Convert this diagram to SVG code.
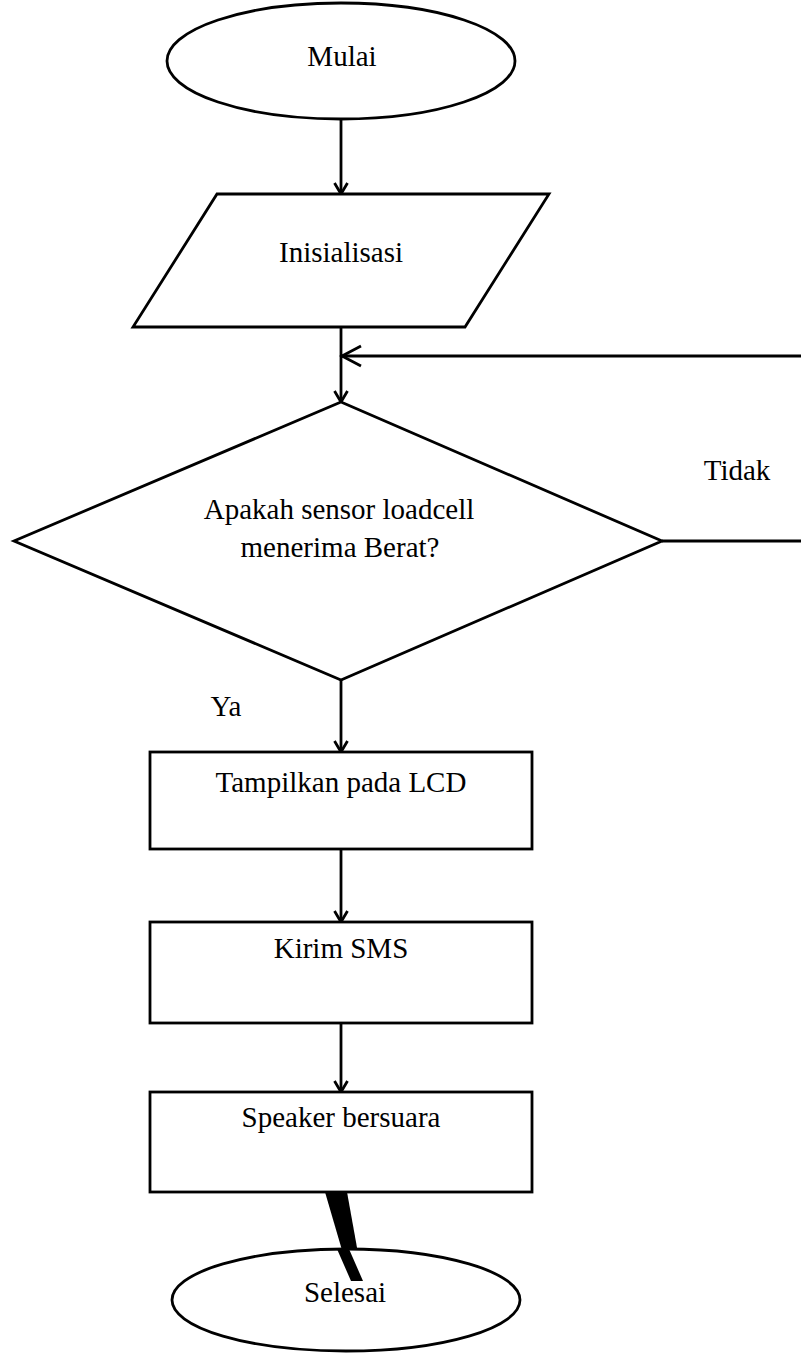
<svg xmlns="http://www.w3.org/2000/svg" width="801" height="1353" viewBox="0 0 801 1353">
<style>
.s{fill:#fff;stroke:#000;stroke-width:2.8}
.c{fill:none;stroke:#000;stroke-width:2.8}
.t{font-family:"Liberation Serif","Times New Roman",serif;font-size:29px;fill:#000;text-anchor:middle}
</style>
<defs>
<marker id="a" markerUnits="userSpaceOnUse" markerWidth="30" markerHeight="30" viewBox="-15 -15 30 30" refX="0" refY="0" orient="auto">
<path d="M-11,-6.5 L0,0 L-11,6.5" fill="none" stroke="#000" stroke-width="2.8"/>
</marker>
<marker id="b" markerUnits="userSpaceOnUse" markerWidth="44" markerHeight="44" viewBox="-22 -22 44 44" refX="0" refY="0" orient="auto">
<path d="M-19,-10 L0,0 L-19,10" fill="none" stroke="#000" stroke-width="2.8"/>
</marker>
</defs>
<rect width="801" height="1353" fill="#fff"/>
<g id="connectors">
<line class="c" x1="341" y1="119" x2="341" y2="194" marker-end="url(#a)"/>
<line class="c" x1="341" y1="327" x2="341" y2="402" marker-end="url(#a)"/>
<polyline class="c" points="662,541 806,541 806,356 342,356" marker-end="url(#b)"/>
<line class="c" x1="341" y1="680" x2="341" y2="752" marker-end="url(#a)"/>
<line class="c" x1="341" y1="849" x2="341" y2="922" marker-end="url(#a)"/>
<line class="c" x1="341" y1="1023" x2="341" y2="1092" marker-end="url(#a)"/>
<polygon points="325,1192 347,1192 363,1281 351,1281" fill="#000"/>
<text class="t" x="737" y="480">Tidak</text>
<text class="t" x="226" y="716">Ya</text>
</g>
<g id="mulai">
<ellipse class="s" cx="341" cy="61" rx="174" ry="58"/>
<text class="t" x="342" y="66">Mulai</text>
</g>
<g id="inisialisasi">
<polygon class="s" points="217,194 549,194 465,327 133,327"/>
<text class="t" x="341" y="262">Inisialisasi</text>
</g>
<g id="keputusan">
<polygon class="s" points="341,402 662,541 341,680 14,541"/>
<text class="t" x="339" y="519">Apakah sensor loadcell</text>
<text class="t" x="340" y="557">menerima Berat?</text>
</g>
<g id="tampilkan">
<rect class="s" x="150" y="752" width="382" height="97"/>
<text class="t" x="341" y="792">Tampilkan pada LCD</text>
</g>
<g id="kirim">
<rect class="s" x="150" y="922" width="382" height="101"/>
<text class="t" x="341" y="958">Kirim SMS</text>
</g>
<g id="speaker">
<rect class="s" x="150" y="1092" width="382" height="100"/>
<text class="t" x="341" y="1127">Speaker bersuara</text>
</g>
<g id="selesai">
<ellipse class="s" cx="346" cy="1300" rx="174" ry="51"/>
<polygon points="337,1249 349,1249 363,1281 351,1281" fill="#000"/>
<text class="t" x="345" y="1302">Selesai</text>
</g>
</svg>
